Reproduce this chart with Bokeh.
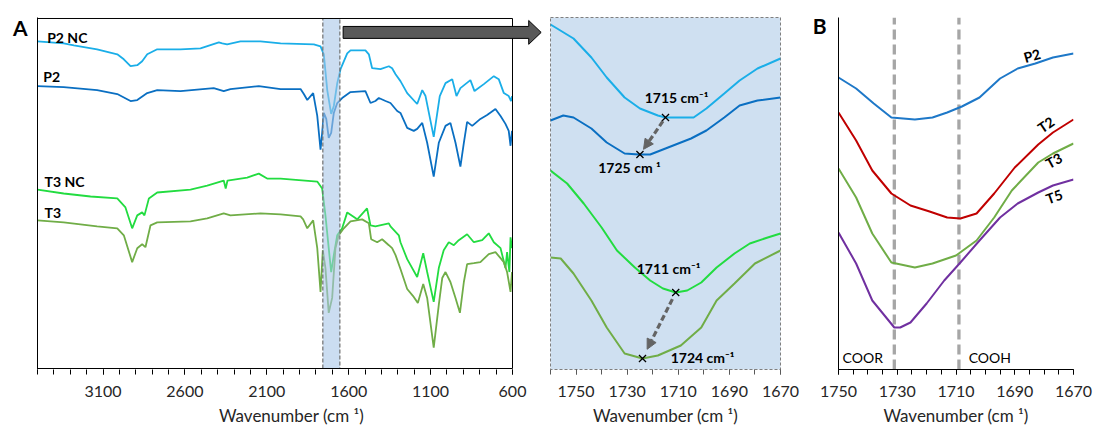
import numpy as np
from bokeh.plotting import figure
from bokeh.layouts import row
from bokeh.models import (Range1d, FixedTicker, BoxAnnotation, PolyAnnotation,
                          Arrow, NormalHead)
from bokeh.core.properties import value
from bokeh.embed import file_html
from bokeh.resources import INLINE

FONT = "Lato"
XTITLE = "Wavenumber (cm \u00b9)"

# ---------------- Panel A : full FTIR spectra (offset, a.u.) ----------------
a_p2nc_wn = [3500, 3340, 3278, 3136, 3013, 2973, 2932, 2891, 2861, 2830, 2769, 2627, 2505, 2393, 2372, 2342,
             2261, 2139, 2016, 1813, 1772, 1752, 1731, 1707, 1691, 1670, 1650, 1609, 1589, 1498, 1477, 1457,
             1406, 1355, 1335, 1314, 1284, 1243, 1182, 1151, 1131, 1081, 1044, 1009, 968, 942, 918, 857, 832,
             775, 714, 684, 653, 623, 609, 603]
a_p2nc_y = [329, 327, 325, 321, 316, 311, 304, 305, 309, 316, 321, 321, 322, 328, 327, 326,
            329, 329, 327, 326, 324, 316, 280, 256, 264, 287, 301, 317, 320, 320, 316, 302,
            301, 304, 302, 296, 289, 277, 266, 280, 274, 233, 274, 287, 291, 274, 282, 290, 279,
            286, 294, 291, 277, 274, 269, 274]

a_p2_wn = [3500, 3340, 3136, 3013, 2932, 2891, 2830, 2769, 2627, 2424, 2363, 2322, 2149, 2016, 1894, 1874,
           1853, 1817, 1792, 1772, 1762, 1752, 1737, 1722, 1707, 1691, 1670, 1640, 1589, 1498, 1467, 1437,
           1416, 1375, 1345, 1304, 1284, 1243, 1203, 1182, 1151, 1121, 1081, 1050, 1009, 979, 948, 918, 897,
           877, 846, 796, 755, 704, 673, 643, 623, 612, 603]
a_p2_y = [284, 283, 280, 276, 269, 270, 277, 280, 279, 282, 279, 281, 284, 281, 281, 276,
          270, 277, 254, 220, 237, 257, 251, 232, 237, 257, 267, 272, 278, 279, 267, 269,
          272, 269, 267, 259, 257, 242, 239, 241, 247, 227, 193, 227, 244, 247, 227, 203, 227,
          248, 244, 251, 255, 261, 254, 246, 239, 224, 239]

a_t3nc_wn = [3500, 3340, 3176, 3013, 2963, 2922, 2891, 2861, 2847, 2820, 2769, 2566, 2464, 2363, 2351, 2340,
             2220, 2149, 2098, 2016, 1792, 1762, 1742, 1722, 1707, 1691, 1670, 1640, 1609, 1548, 1488, 1467,
             1437, 1355, 1345, 1294, 1284, 1243, 1182, 1145, 1121, 1081, 1050, 1020, 989, 958, 928, 877, 836,
             785, 745, 714, 673, 643, 633, 619, 612, 603]
a_t3nc_y = [180, 176, 173, 171, 162, 141, 154, 157, 154, 171, 177, 180, 184, 189, 181, 189,
            192, 196, 191, 191, 188, 181, 154, 121, 97, 114, 134, 141, 157, 150, 161, 144,
            143, 146, 143, 134, 127, 110, 92, 116, 97, 67, 101, 119, 127, 124, 129, 135, 127,
            129, 136, 127, 121, 101, 117, 97, 132, 121]

a_t3_wn = [3500, 3340, 3136, 3013, 2973, 2922, 2891, 2861, 2841, 2810, 2769, 2566, 2464, 2363, 2322, 2139,
           2016, 1894, 1878, 1853, 1817, 1792, 1772, 1758, 1742, 1722, 1701, 1681, 1661, 1630, 1589, 1518,
           1477, 1463, 1426, 1396, 1355, 1335, 1314, 1284, 1243, 1203, 1178, 1145, 1121, 1081, 1050, 1029,
           1009, 979, 948, 921, 897, 877, 836, 796, 745, 704, 673, 653, 633, 612, 603]
a_t3_y = [149, 147, 143, 141, 134, 107, 121, 125, 122, 144, 147, 148, 151, 156, 154, 156,
          155, 153, 150, 141, 149, 121, 77, 119, 101, 56, 71, 121, 134, 141, 148, 150,
          146, 130, 127, 130, 124, 121, 114, 100, 80, 72, 66, 85, 71, 21, 64, 91,
          97, 87, 71, 56, 87, 105, 106, 107, 115, 117, 111, 107, 97, 77, 97]

a_names = ["P2 NC", "P2", "T3 NC", "T3"]
a_ticks = [3100, 2600, 2100, 1600, 1100, 600]
a_range = (3500, 600)
zoom_band = (1758, 1654)

# ---------------- Middle panel : zoom 1760-1670 ----------------
m_p2nc_wn = [1760, 1751, 1744, 1738, 1731, 1725, 1718, 1715, 1709, 1704, 1699, 1692, 1686, 1679, 1670]
m_p2nc_y = [345, 331, 312, 292, 272, 261, 254, 252, 252, 252, 261, 276, 289, 301, 311]
m_p2_wn = [1760, 1755, 1751, 1744, 1738, 1731, 1725.5, 1721, 1714, 1705, 1699, 1692, 1686, 1679, 1670]
m_p2_y = [249, 254, 252, 241, 227, 216, 215, 215, 222, 231, 239, 252, 264, 269, 272]
m_t3nc_wn = [1760, 1753.5, 1747, 1740, 1734, 1727, 1721, 1716, 1711, 1706.5, 1701, 1695, 1688, 1682, 1675, 1670]
m_t3nc_y = [199, 186, 166, 142, 119, 102, 89, 81, 77, 79, 87, 102, 116, 126, 132, 136]
m_t3_wn = [1760, 1756, 1751, 1744, 1738, 1731, 1724, 1718, 1709, 1701, 1695, 1688, 1680, 1670]
m_t3_y = [112, 111, 96, 69, 42, 16, 11, 14, 24, 42, 69, 86, 106, 119]
m_ticks = [1750, 1730, 1710, 1690, 1670]

peak_wn = [1715, 1725, 1711, 1724]          # carbonyl band minima
peak_txt = ["1715 cm\u207b\u00b9", "1725 cm \u00b9", "1711 cm\u207b\u00b9", "1724 cm\u207b\u00b9"]

# ---------------- Panel B ----------------
b_p2_wn = [1750, 1744, 1738, 1732, 1724, 1718, 1713, 1708, 1702, 1695, 1689, 1683, 1677, 1670]
b_p2_y = [292, 281, 266, 252, 250, 252, 257, 263, 272, 291, 301, 306, 312, 316]
b_t2_wn = [1750, 1744, 1738.5, 1732, 1725.5, 1719, 1713, 1708.5, 1703, 1697, 1690, 1682, 1677, 1670]
b_t2_y = [257, 229, 199, 176, 164, 158, 152, 151, 156, 176, 202, 225, 237, 250]
b_t3_wn = [1750, 1744, 1738.5, 1732, 1724, 1718, 1710, 1703, 1697, 1691, 1682, 1677, 1670]
b_t3_y = [201, 172, 136, 107, 102, 106, 114, 129, 152, 179, 207, 216, 226]
b_t5_wn = [1750, 1744, 1738.5, 1731, 1729, 1725.5, 1720, 1714, 1708.5, 1702, 1695, 1689, 1682, 1677, 1670]
b_t5_y = [137, 106, 69, 42, 42, 47, 66, 89, 107, 129, 152, 166, 177, 184, 190]
b_names = ["P2", "T2", "T3", "T5"]
ref_wn = [1731, 1709]
ref_names = ["COOR", "COOH"]
b_ticks = [1750, 1730, 1710, 1690, 1670]

C_P2NC, C_P2, C_T3NC, C_T3 = "#1aaee8", "#0a6fc2", "#22dc40", "#70ad47"
C_BP2, C_T2, C_T5 = "#1e78c8", "#c00000", "#7030a0"
TXT = "#262626"


def style_xaxis(p, ticks, minor):
    ax = p.xaxis[0]
    ax.ticker = FixedTicker(ticks=ticks, minor_ticks=minor)
    ax.major_tick_in = 0
    ax.major_tick_out = 5
    ax.minor_tick_in = 0
    ax.minor_tick_out = 5
    ax.major_label_standoff = 11
    ax.major_label_text_font = FONT
    ax.major_label_text_font_size = "16px"
    ax.major_label_text_color = TXT
    ax.axis_label = XTITLE
    ax.axis_label_text_font = FONT
    ax.axis_label_text_font_size = "17px"
    ax.axis_label_text_font_style = "normal"
    ax.axis_label_text_color = TXT
    ax.axis_label_standoff = 5
    p.xgrid.visible = False
    p.ygrid.visible = False


def letter_axis(p, yval, letter, standoff):
    ax = p.yaxis[0]
    ax.ticker = FixedTicker(ticks=[yval])
    ax.major_label_overrides = {yval: letter}
    ax.major_tick_in = 0
    ax.major_tick_out = 0
    ax.minor_tick_in = 0
    ax.minor_tick_out = 0
    ax.major_label_standoff = standoff
    ax.major_label_text_font = FONT
    ax.major_label_text_font_size = "21px"
    ax.major_label_text_font_style = "bold"
    ax.major_label_text_color = "black"
    ax.axis_line_color = "black"


H = 430
# ---------------- Figure A ----------------
# frame reaches the figure's right edge so that the block arrow can leave the box
px_per_unit = 475 / (a_range[0] - a_range[1])
a_xend = a_range[1] - 33 / px_per_unit
pa = figure(width=545, height=H, x_range=Range1d(a_range[0], a_xend), y_range=Range1d(-1, 353),
            output_backend="svg", toolbar_location=None,
            min_border_left=37, min_border_right=0, min_border_top=16, min_border_bottom=60)
pa.outline_line_color = None
style_xaxis(pa, a_ticks, list(range(600, 3501, 100)))
pa.xaxis.axis_line_color = None
pa.xaxis.major_tick_line_color = "black"
pa.xaxis.minor_tick_line_color = "black"
letter_axis(pa, 343, "A", 10)

for wn, y, c in [(a_p2nc_wn, a_p2nc_y, C_P2NC), (a_p2_wn, a_p2_y, C_P2),
                 (a_t3nc_wn, a_t3nc_y, C_T3NC), (a_t3_wn, a_t3_y, C_T3)]:
    pa.line(wn, y, line_color=c, line_width=1.8)

pa.text(x=[3441, 3465, 3457, 3457], y=[333, 294, 188, 157], text=a_names,
        text_font=value(FONT), text_font_size="14px", text_font_style="bold",
        text_color="black", text_baseline="middle", text_align="left")

pa.add_layout(BoxAnnotation(left=zoom_band[0], right=zoom_band[1], bottom=0, top=352,
                            fill_color="#a9c7e8", fill_alpha=0.6,
                            line_color="#6f6f6f", line_alpha=1, line_dash="4 2",
                            line_width=1.2, level="overlay"))
# panel A box
pa.add_layout(BoxAnnotation(left=a_range[0], right=a_range[1], bottom=0, top=352,
                            fill_alpha=0, line_color="black", line_alpha=1, line_width=1,
                            level="overlay"))
pa.add_layout(PolyAnnotation(xs=[1634, 501, 501, 425, 501, 501, 1634],
                             ys=[344, 344, 350, 338, 326, 332, 332],
                             fill_color="#595959", fill_alpha=1, line_color="black",
                             line_alpha=1, line_width=1, level="overlay"))

# ---------------- Middle figure ----------------
pm = figure(width=255, height=H, x_range=Range1d(1760, 1670), y_range=Range1d(0, 352),
            output_backend="svg", toolbar_location=None,
            min_border_left=5, min_border_right=20, min_border_top=17, min_border_bottom=61)
pm.yaxis.visible = False
pm.background_fill_color = "#cfe0f1"
pm.outline_line_color = "#7f7f7f"
pm.outline_line_dash = "3 2"
pm.outline_line_width = 1
pm.outline_line_alpha = 1
style_xaxis(pm, m_ticks, list(range(1670, 1761, 10)))
pm.xaxis.axis_line_color = None
pm.xaxis.major_tick_line_color = "#595959"
pm.xaxis.minor_tick_line_color = "#595959"

curves_m = [(m_p2nc_wn, m_p2nc_y, C_P2NC), (m_p2_wn, m_p2_y, C_P2),
            (m_t3nc_wn, m_t3nc_y, C_T3NC), (m_t3_wn, m_t3_y, C_T3)]
for wn, y, c in curves_m:
    pm.line(wn, y, line_color=c, line_width=2)

peak_y = [float(np.interp(w, wn[::-1], y[::-1])) for w, (wn, y, c) in zip(peak_wn, curves_m)]

for (s, e) in [(0, 1), (2, 3)]:
    x0, y0, x1, y1 = peak_wn[s], peak_y[s], peak_wn[e], peak_y[e]
    f0, f1 = 0.1, 0.86
    pm.add_layout(Arrow(end=NormalHead(size=10, fill_color="#646464", line_color="#646464"),
                        x_start=x0 + f0 * (x1 - x0), y_start=y0 + f0 * (y1 - y0),
                        x_end=x0 + f1 * (x1 - x0), y_end=y0 + f1 * (y1 - y0),
                        line_color="#646464", line_width=3.2, line_dash="6 3"))

pm.scatter(peak_wn, peak_y, marker="x", size=10, line_color="black", line_width=1.3)

lab_dx = [-4.3, 4.1, 2.8, -23.5]
lab_dy = [20, -13, 24, 1]
pm.text(x=[w + d for w, d in zip(peak_wn, lab_dx)], y=[v + d for v, d in zip(peak_y, lab_dy)],
        text=peak_txt, text_font=value(FONT), text_font_size="14px", text_font_style="bold",
        text_color="black", text_align="center", text_baseline="middle")

# ---------------- Figure B ----------------
pb = figure(width=296, height=H, x_range=Range1d(1750, 1670), y_range=Range1d(0, 352),
            output_backend="svg", toolbar_location=None,
            min_border_left=38, min_border_right=23, min_border_top=17, min_border_bottom=61)
pb.outline_line_color = None
style_xaxis(pb, b_ticks, list(range(1670, 1751, 5)))
pb.xaxis.axis_line_color = "black"
pb.xaxis.major_tick_line_color = "black"
pb.xaxis.minor_tick_line_color = "black"
letter_axis(pb, 344, "B", 12)

for w in ref_wn:
    pb.line([w, w], [0, 352], line_color="#a6a6a6", line_width=3.3, line_dash="10 5")

for wn, y, c in [(b_p2_wn, b_p2_y, C_BP2), (b_t2_wn, b_t2_y, C_T2),
                 (b_t3_wn, b_t3_y, C_T3), (b_t5_wn, b_t5_y, C_T5)]:
    pb.line(wn, y, line_color=c, line_width=2)

pb.text(x=[1684.1, 1679.4, 1676.7, 1676.6], y=[314, 245, 209, 173], text=b_names,
        angle=[0.28, 0.6, 0.5, 0.35], text_font=value(FONT), text_font_size="14px",
        text_font_style="bold", text_color="black", text_align="center", text_baseline="middle")
pb.text(x=[1748.6, 1705.7], y=[12, 12], text=ref_names, text_font=value(FONT),
        text_font_size="14px", text_color="black", text_align="left", text_baseline="middle")

layout = row(pa, pm, pb, spacing=0)
open("out.html", "w").write(file_html(layout, INLINE))
